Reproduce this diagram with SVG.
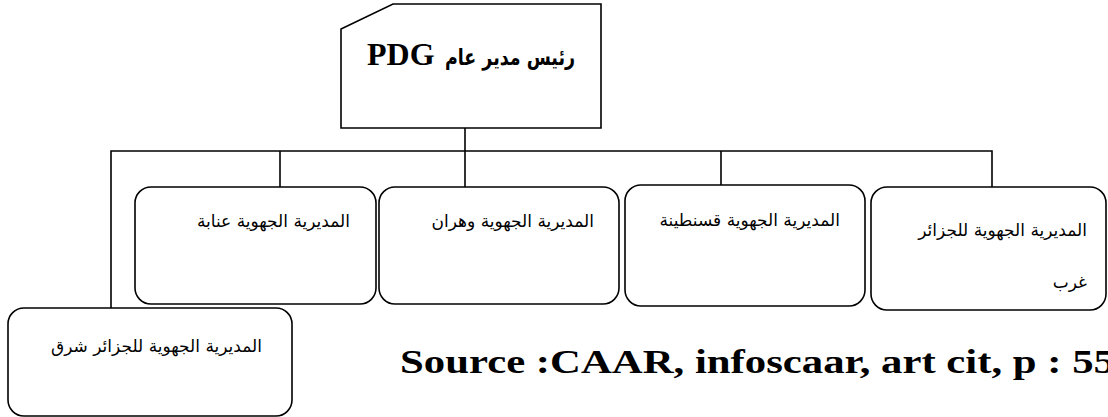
<svg xmlns="http://www.w3.org/2000/svg" width="1108" height="417" viewBox="0 0 1108 417">
  <style>
    .box { fill: #ffffff; stroke: #000000; stroke-width: 1.6; }
    .link { fill: none; stroke: #000000; stroke-width: 1.6; }
    .ar { font-family: "DejaVu Sans", "Noto Sans", sans-serif; font-size: 17px; fill: #000000; }
    .head-ar { font-family: "DejaVu Sans", sans-serif; font-weight: bold; font-size: 22px; fill: #000000; }
    .head-lat { font-family: "Liberation Serif", serif; font-weight: bold; font-size: 32px; fill: #000000; }
    .src { font-family: "Liberation Serif", serif; font-weight: bold; font-size: 34px; fill: #000000; }
  </style>

  <rect width="1108" height="417" fill="#ffffff"/>

  <!-- connectors -->
  <g id="connectors">
    <line class="link" x1="465" y1="128" x2="465" y2="151"/>
    <polyline class="link" points="111,308 111,151 992,151 992,187"/>
    <line class="link" x1="280" y1="151" x2="280" y2="187"/>
    <line class="link" x1="465" y1="151" x2="465" y2="187"/>
    <line class="link" x1="721" y1="151" x2="721" y2="185"/>
  </g>

  <!-- head office -->
  <g id="node-pdg">
    <polygon class="box" points="393,4 601,4 601,128 341,128 341,29"/>
    <text class="head-lat" x="367" y="65">PDG</text>
    <text class="head-ar" x="445" y="65" textLength="130" lengthAdjust="spacingAndGlyphs">رئيس مدير عام</text>
  </g>

  <!-- regional directorates -->
  <g id="node-annaba">
    <rect class="box" x="135" y="187" width="241" height="117" rx="16" ry="16"/>
    <text class="ar" x="350" y="227" direction="rtl" text-anchor="start">المديرية الجهوية  عنابة</text>
  </g>

  <g id="node-oran">
    <rect class="box" x="379" y="187" width="240" height="117" rx="16" ry="16"/>
    <text class="ar" x="594" y="227" direction="rtl" text-anchor="start">المديرية الجهوية وهران</text>
  </g>

  <g id="node-constantine">
    <rect class="box" x="625" y="185" width="240" height="121" rx="16" ry="16"/>
    <text class="ar" x="840" y="226" direction="rtl" text-anchor="start">المديرية الجهوية قسنطينة</text>
  </g>

  <g id="node-alger-ouest">
    <rect class="box" x="871" y="187" width="235" height="123" rx="16" ry="16"/>
    <text class="ar" x="1087" y="236" direction="rtl" text-anchor="start">المديرية الجهوية للجزائر</text>
    <text class="ar" x="1087" y="288" direction="rtl" text-anchor="start">غرب</text>
  </g>

  <g id="node-alger-est">
    <rect class="box" x="8" y="308" width="284" height="108" rx="16" ry="16"/>
    <text class="ar" x="262" y="352" direction="rtl" text-anchor="start">المديرية الجهوية للجزائر شرق</text>
  </g>

  <!-- source note -->
  <text class="src" x="400" y="373" textLength="715" lengthAdjust="spacingAndGlyphs">Source :CAAR, infoscaar, art cit, p : 55</text>
</svg>
